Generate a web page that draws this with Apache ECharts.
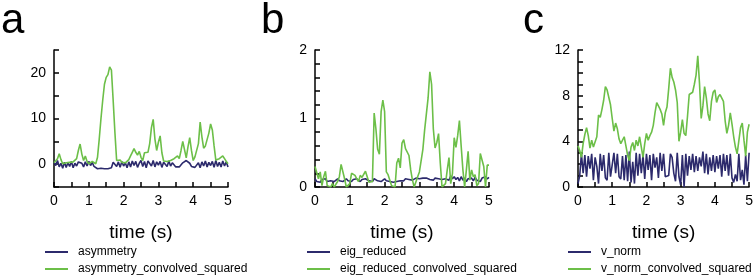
<!DOCTYPE html>
<html>
<head>
<meta charset="utf-8">
<script src="https://cdn.jsdelivr.net/npm/echarts@6/dist/echarts.min.js"></script>
<style>html,body{margin:0;padding:0;background:#fff;}#chart{width:756px;height:277px;}</style>
</head>
<body>
<div id="chart"></div>
<script>
// sampling step of all series (seconds)
const dt = 0.05;
const xTicks = [0, 1, 2, 3, 4, 5];

const asymmetry = [
  0.5,-0.3,0.8,-0.6,0.2,-0.9,0.4,-0.7,0.3,-0.5,
  0.6,-0.8,0.2,-0.4,0.5,0.7,0.2,-0.6,0.5,-0.4,
  0.6,-0.3,0.4,-0.5,-0.8,-1.0,-1.0,-0.9,-1.1,-1.0,
  -0.9,-1.0,-1.1,-0.8,0.4,0.6,-0.5,0.5,-0.7,0.6,
  -0.4,0.3,-0.8,0.5,-0.6,0.7,-0.3,0.6,-0.7,0.2,
  0.8,-0.5,0.6,-0.8,0.7,0.9,-0.4,0.8,-0.6,0.5,
  -0.2,0.6,-0.7,0.4,0.8,-0.5,0.7,-0.4,0.3,0.6,
  -0.6,-0.5,-0.6,-0.5,0.3,0.5,0.8,0.6,0.2,-0.5,
  -0.6,-0.7,-0.5,0.3,-0.8,0.5,-0.4,0.7,-0.6,0.4,
  -0.3,0.6,-0.7,0.8,-0.5,0.4,-0.6,0.7,-0.4,0.5,
  -0.6
];
const asymmetryConvSq = [
  0.3,0.6,1.2,2.3,1.0,0.1,0.5,0.3,0.5,0.4,
  0.3,0.5,0.4,1.2,3.0,4.4,2.2,0.8,1.8,0.6,
  0.1,0.3,0.6,0.2,0.1,1.5,5.5,10.0,14.0,17.5,
  19.0,19.6,21.3,20.6,14.0,7.0,0.8,0.6,0.9,0.4,
  0.7,0.3,0.5,1.0,1.8,2.6,3.4,2.6,2.0,2.8,
  1.5,0.8,2.5,2.9,2.6,4.5,8.0,9.8,5.5,3.0,
  4.8,6.2,2.5,0.7,0.4,0.6,0.3,0.8,0.5,1.2,
  1.0,1.8,1.2,3.0,5.0,3.2,1.4,3.8,5.8,3.0,
  0.8,1.6,1.4,4.5,9.2,6.0,3.5,4.0,4.0,6.8,
  8.8,7.5,4.0,0.9,0.8,1.2,1.0,1.8,1.2,0.6,
  0.1
];
const eigReduced = [
  0.12,0.08,0.10,0.07,0.11,0.09,0.12,0.08,0.10,0.09,
  0.11,0.08,0.10,0.12,0.09,0.11,0.08,0.10,0.12,0.09,
  0.10,0.08,0.11,0.09,0.12,0.10,0.08,0.11,0.09,0.12,
  0.13,0.09,0.11,0.08,0.12,0.10,0.09,0.11,0.08,0.10,
  0.12,0.09,0.11,0.08,0.10,0.07,0.09,0.08,0.10,0.09,
  0.11,0.09,0.12,0.10,0.11,0.12,0.10,0.11,0.13,0.12,
  0.12,0.14,0.13,0.14,0.13,0.12,0.11,0.12,0.10,0.13,
  0.11,0.12,0.10,0.11,0.13,0.12,0.14,0.10,0.16,0.12,
  0.15,0.11,0.14,0.09,0.15,0.10,0.13,0.08,0.12,0.10,
  0.13,0.09,0.14,0.10,0.12,0.08,0.13,0.11,0.15,0.12,
  0.14
];
const eigReducedConvSq = [
  0.30,0.32,0.12,0.22,0.02,0.15,0.23,0.02,0.0,0.0,
  0.05,0.0,0.0,0.08,0.15,0.33,0.33,0.12,0.0,0.0,
  0.05,0.2,0.2,0.17,0.12,0.08,0.17,0.14,0.16,0.23,
  0.22,0.07,0.06,0.08,1.08,0.85,0.55,0.48,1.10,1.27,
  1.10,0.22,0.18,0.17,0.02,0.0,0.0,0.35,0.42,0.28,
  0.64,0.69,0.56,0.58,0.46,0.25,0.10,0.0,0.0,0.15,
  0.22,0.22,0.55,0.83,0.85,1.30,1.68,1.50,0.85,0.57,
  0.65,0.78,0.35,0.0,0.0,0.05,0.25,0.43,0.05,0.2,
  0.72,0.58,0.75,0.97,0.60,0.25,0.0,0.25,0.52,0.10,
  0.25,0.15,0.18,0.02,0.05,0.49,0.48,0.30,0.0,0.32,
  0.32
];
const vNorm = [
  0.3,1.0,2.9,1.2,2.8,0.9,2.7,1.6,2.9,0.6,
  2.6,1.8,0.3,2.9,1.4,2.8,0.8,0.6,3.0,0.9,
  1.0,3.0,1.2,2.9,0.9,0.7,2.7,0.6,2.8,0.5,
  3.1,0.4,2.2,0.3,3.0,1.0,2.9,1.2,2.8,0.7,
  2.9,1.5,2.8,0.6,2.9,1.7,2.6,0.8,3.0,1.4,
  2.9,0.9,1.0,1.0,2.9,2.6,1.2,0.5,3.0,0.9,
  0.2,2.8,0.0,2.9,1.0,2.7,1.5,2.9,1.3,2.7,
  1.4,2.6,1.8,3.1,1.2,2.9,1.1,2.6,1.4,2.8,
  1.3,2.7,1.6,2.8,0.9,2.9,1.4,2.8,1.0,2.9,
  0.8,0.4,1.1,0.5,2.9,0.6,1.5,0.2,2.8,0.5,
  3.0
];
const vNormConvSq = [
  3.6,3.2,2.6,3.8,4.6,5.2,4.5,3.4,4.1,3.5,
  3.4,4.4,6.3,6.1,6.8,7.6,8.8,8.5,8.6,7.2,
  6.0,4.9,5.6,5.1,4.2,3.8,3.9,4.4,3.6,2.8,
  2.3,3.5,3.9,3.2,4.1,3.6,4.4,3.5,2.6,3.8,
  4.7,4.1,4.5,4.8,5.4,6.5,7.4,7.1,6.8,6.4,
  5.4,6.5,7.0,8.6,10.4,9.6,9.2,8.5,7.4,4.0,
  4.8,5.9,4.7,4.5,6.2,8.1,8.0,8.3,9.0,9.8,
  11.5,9.1,6.0,7.1,8.8,7.8,6.4,5.8,7.5,8.3,
  8.5,7.4,7.9,8.1,8.0,7.5,5.8,4.7,5.4,6.5,
  5.5,4.4,3.5,2.9,3.0,5.2,5.6,4.1,2.7,4.8,
  5.5
];

const panelLetters = ['a', 'b', 'c'];
const seriesNames = [
  ['asymmetry', 'asymmetry_convolved_squared'],
  ['eig_reduced', 'eig_reduced_convolved_squared'],
  ['v_norm', 'v_norm_convolved_squared']
];
const seriesData = [
  [asymmetry, asymmetryConvSq],
  [eigReduced, eigReducedConvSq],
  [vNorm, vNormConvSq]
];
const yRanges = [
  {min: -5, max: 25, interval: 5, labels: [0, 10, 20]},
  {min: 0, max: 2, interval: 0.2, labels: [0, 1, 2]},
  {min: 0, max: 12, interval: 1, labels: [0, 4, 8, 12]}
];

const NAVY = '#2c2a6c';
const GREEN = '#6cbf48';
const FONT = 'Liberation Sans';
const gridLefts = [54, 315, 578];
const letterX = [1, 261, 523];
const legendLefts = [45, 307, 568];
const legendTops = [246, 263];

const toPairs = arr => arr.map((v, i) => [+(i * dt).toFixed(3), v]);

const grids = [], xAxes = [], yAxes = [], series = [], legends = [], graphics = [];
for (let p = 0; p < 3; p++) {
  grids.push({left: gridLefts[p], top: 50, width: 174, height: 137, containLabel: false});
  xAxes.push({
    type: 'value', gridIndex: p, min: 0, max: 5, interval: 0.5,
    name: 'time (s)', nameLocation: 'middle', nameGap: 36,
    nameTextStyle: {fontFamily: FONT, fontSize: 19, color: '#000'},
    axisLine: {show: true, onZero: false, lineStyle: {color: '#000', width: 1.5}},
    axisTick: {show: true, inside: true, length: 5, lineStyle: {color: '#000', width: 1.5}},
    axisLabel: {
      fontFamily: FONT, fontSize: 14, color: '#000', margin: 7,
      formatter: v => (xTicks.indexOf(Math.round(v * 1000) / 1000) >= 0 ? String(Math.round(v)) : '')
    },
    splitLine: {show: false}
  });
  const yr = yRanges[p];
  yAxes.push({
    type: 'value', gridIndex: p, min: yr.min, max: yr.max, interval: yr.interval,
    axisLine: {show: true, onZero: false, lineStyle: {color: '#000', width: 1.5}},
    axisTick: {show: true, inside: true, length: 5, lineStyle: {color: '#000', width: 1.5}},
    axisLabel: {
      fontFamily: FONT, fontSize: 14, color: '#000', margin: 8,
      formatter: v => {
        const r = Math.round(v * 1000) / 1000;
        return yr.labels.indexOf(r) >= 0 ? String(r) : '';
      }
    },
    splitLine: {show: false}
  });
  const cols = [NAVY, GREEN];
  for (let s = 0; s < 2; s++) {
    series.push({
      type: 'line', name: seriesNames[p][s], xAxisIndex: p, yAxisIndex: p,
      data: toPairs(seriesData[p][s]), showSymbol: false, symbol: 'none',
      lineStyle: {color: cols[s], width: 1.6}, itemStyle: {color: cols[s]},
      z: 2 + s, animation: false, clip: true
    });
    legends.push({
      data: [{name: seriesNames[p][s], icon: 'rect'}],
      left: legendLefts[p], top: legendTops[s], padding: 0,
      itemWidth: 23, itemHeight: 2,
      textStyle: {fontFamily: FONT, fontSize: 12, color: '#000', padding: [0, 0, 0, 5]},
      selectedMode: false
    });
  }
  graphics.push({
    type: 'text', left: letterX[p], top: 0,
    style: {text: panelLetters[p], font: '42px "Liberation Sans"', fill: '#000'}
  });
}

const chart = echarts.init(document.getElementById('chart'), null, {renderer: 'canvas'});
chart.setOption({
  animation: false,
  backgroundColor: '#fff',
  grid: grids, xAxis: xAxes, yAxis: yAxes, series: series,
  legend: legends, graphic: graphics
});
</script>
</body>
</html>
